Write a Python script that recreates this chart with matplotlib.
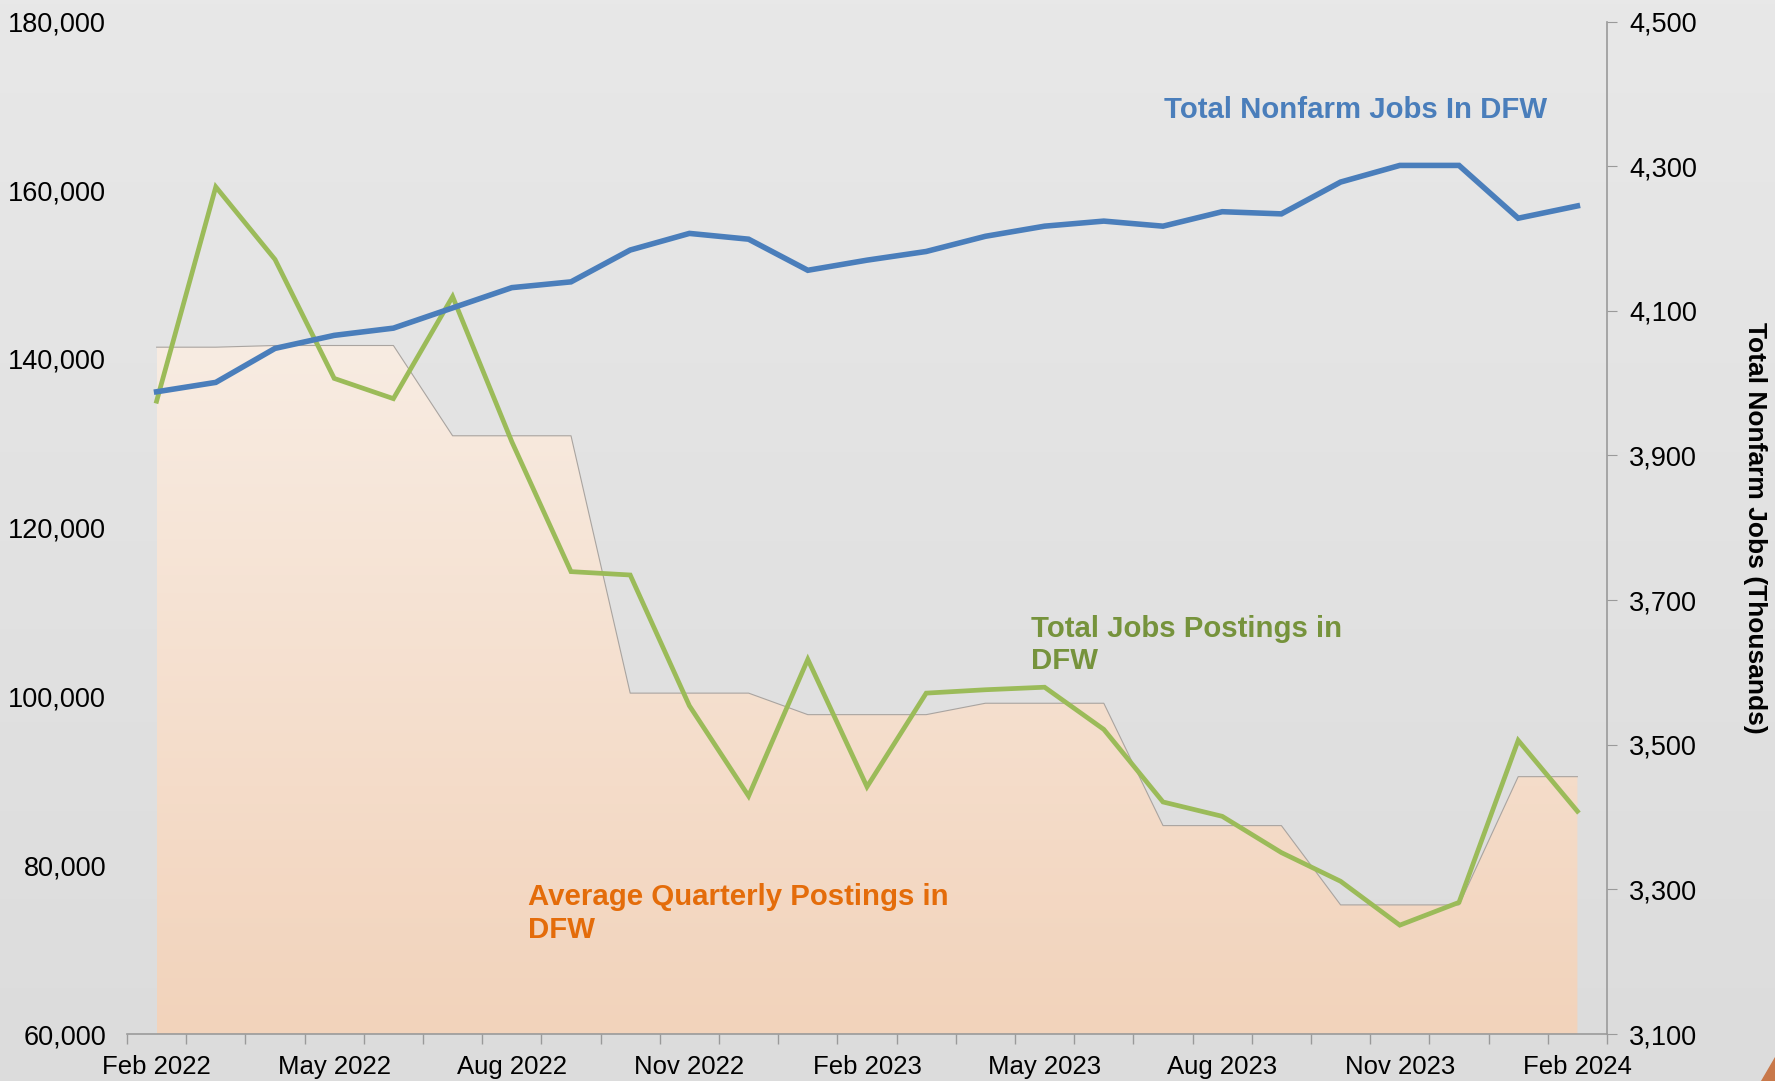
import numpy as np
import matplotlib
matplotlib.use("Agg")
import matplotlib.pyplot as plt
from matplotlib.patches import Polygon
from matplotlib.colors import LinearSegmentedColormap

# ---------------- data ----------------
months = ["Feb 2022", "Mar 2022", "Apr 2022", "May 2022", "Jun 2022", "Jul 2022",
          "Aug 2022", "Sep 2022", "Oct 2022", "Nov 2022", "Dec 2022", "Jan 2023",
          "Feb 2023", "Mar 2023", "Apr 2023", "May 2023", "Jun 2023", "Jul 2023",
          "Aug 2023", "Sep 2023", "Oct 2023", "Nov 2023", "Dec 2023", "Jan 2024",
          "Feb 2024"]
job_postings = [135000, 160400, 151800, 137700, 135300, 147400, 130200, 114800,
                114400, 98900, 88200, 104400, 89300, 100400, 100800, 101100,
                96100, 87500, 85800, 81500, 78100, 72900, 75600, 94800, 86400]
avg_quarterly = [141400, 141400, 141600, 141600, 141600, 130900, 130900, 130900,
                 100400, 100400, 100400, 97850, 97850, 97850, 99200, 99200, 99200,
                 84700, 84700, 84700, 75300, 75300, 75300, 90500, 90500]
nonfarm = [3988, 4001, 4048, 4066, 4076, 4104, 4132, 4140, 4184, 4207, 4199, 4156,
           4170, 4182, 4203, 4217, 4224, 4217, 4237, 4234, 4278, 4301, 4301, 4228,
           4245]
left_ticks = [60000, 80000, 100000, 120000, 140000, 160000, 180000]
right_ticks = [3100, 3300, 3500, 3700, 3900, 4100, 4300, 4500]
label_every = 3

FONT = "Liberation Sans"
plt.rcParams['font.family'] = [FONT, 'DejaVu Sans']

W, H = 1775, 1081
fig = plt.figure(figsize=(W / 100, H / 100), dpi=100)

# background gradient
bg = fig.add_axes([0, 0, 1, 1], zorder=-10)
bg.set_axis_off()
grad = np.linspace(0, 1, 256).reshape(-1, 1)
bg_cmap = LinearSegmentedColormap.from_list("bg", ["#dcdcdc", "#e8e8e8"])
bg.imshow(grad, aspect="auto", cmap=bg_cmap, extent=[0, 1, 0, 1], origin="lower")
bg.set_xlim(0, 1); bg.set_ylim(0, 1)
# small orange corner decoration
bg.add_patch(Polygon([[0.992, 0.0], [1.0, 0.0], [1.0, 0.022]], closed=True,
                     color="#c8784a", transform=bg.transAxes))

ax = fig.add_axes([127 / W, 1 - 1034 / H, (1607 - 127) / W, (1034 - 21.5) / H])
ax.patch.set_alpha(0)
x = np.arange(len(months))

# area with gradient fill
ymin, ymax = left_ticks[0], left_ticks[-1]
verts = [(x[0], ymin)] + list(zip(x, avg_quarterly)) + [(x[-1], ymin)]
poly = Polygon(verts, closed=True, facecolor="none", edgecolor="none")
ax.add_patch(poly)
area_cmap = LinearSegmentedColormap.from_list("area", ["#f2d3bb", "#f8ece2"])
top = max(avg_quarterly)
im = ax.imshow(grad, aspect="auto", cmap=area_cmap,
               extent=[x[0], x[-1], ymin, top], origin="lower", zorder=1)
im.set_clip_path(poly)
ax.plot(x, avg_quarterly, color="#a9a4a0", lw=0.8, zorder=2)

ax.plot(x, job_postings, color="#9bbb59", lw=3.4, zorder=3, solid_joinstyle="miter")

ax.set_xlim(-0.5, len(months) - 0.5)
ax.set_ylim(ymin, ymax)
ax.set_yticks(left_ticks)
ax.set_yticklabels([f"{v:,}" for v in left_ticks], fontsize=19.5)
ax.tick_params(axis="y", length=0, pad=15)
ax.set_xticks(x[::label_every])
ax.set_xticklabels(months[::label_every], fontsize=18.5)
ax.set_xticks(np.arange(-0.5, len(months), 1), minor=True)
ax.tick_params(axis="x", which="major", length=0, pad=15)
ax.tick_params(axis="x", which="minor", length=7, color="#9a9a9a", width=1)
for s in ["top", "left", "right"]:
    ax.spines[s].set_visible(False)
ax.spines["bottom"].set_color("#9a9a9a")
ax.spines["bottom"].set_linewidth(1.2)

ax2 = ax.twinx()
ax2.patch.set_alpha(0)
ax2.plot(x, nonfarm, color="#4a7ebb", lw=4, zorder=4, solid_joinstyle="miter")
ax2.set_ylim(right_ticks[0], right_ticks[-1])
ax2.set_yticks(right_ticks)
ax2.set_yticklabels([f"{v:,}" for v in right_ticks], fontsize=19.5)
ax2.tick_params(axis="y", length=7, color="#9a9a9a", pad=9)
for s in ["top", "left", "bottom"]:
    ax2.spines[s].set_visible(False)
ax2.spines["right"].set_color("#9a9a9a")
ax2.spines["right"].set_linewidth(1.2)
ax2.set_ylabel("Total Nonfarm Jobs (Thousands)", rotation=-90, fontsize=19,
               fontweight="bold", labelpad=50)

# annotations
ax.text(0.7005, 0.913, "Total Nonfarm Jobs In DFW", transform=ax.transAxes,
        color="#4a7ebb", fontsize=21.2, fontweight="bold", va="center", ha="left")
ax.text(0.6105, 0.384, "Total Jobs Postings in\nDFW", transform=ax.transAxes,
        color="#76933c", fontsize=21.2, fontweight="bold", va="center", ha="left",
        linespacing=1.2)
ax.text(0.271, 0.119, "Average Quarterly Postings in\nDFW", transform=ax.transAxes,
        color="#e46c0a", fontsize=21.2, fontweight="bold", va="center", ha="left",
        linespacing=1.2)

fig.savefig("out.png", dpi=100)
